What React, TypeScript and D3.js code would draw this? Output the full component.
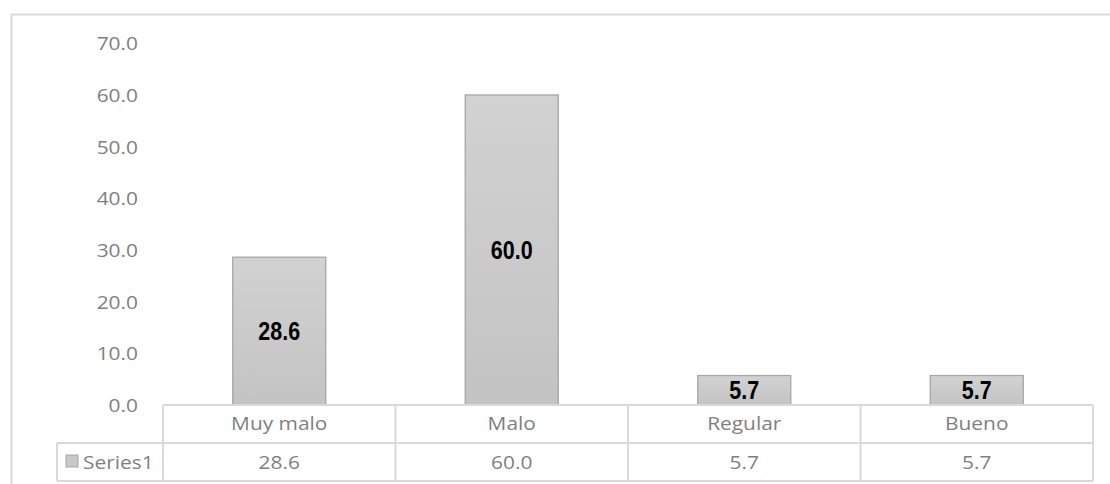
import React from "react";
import * as d3 from "d3";

const categories = ["Muy malo", "Malo", "Regular", "Bueno"];
const values = [28.6, 60.0, 5.7, 5.7];
const seriesName = "Series1";
const yTicks = [0, 10, 20, 30, 40, 50, 60, 70];

const W = 1110;
const H = 484;
const plotLeft = 163;
const plotRight = 1093;
const plotTop = 43.3;
const plotBottom = 405;
const row1Bottom = 443;
const row2Bottom = 481;
const legendLeft = 57;
const SX = 1.1;
const grayText = "#7f7f7f";
const lineColor = "#d9d9d9";
const baseFont = "'Open Sans', 'Noto Sans', sans-serif";

function STxt({ x, y, children, anchor = "middle", size = 19, fill = grayText }: any) {
  return (
    <text
      transform={`translate(${x},${y}) scale(${SX},1)`}
      textAnchor={anchor}
      fontFamily={baseFont}
      fontSize={size}
      fill={fill}
    >
      {children}
    </text>
  );
}

export default function App() {
  const y = d3.scaleLinear().domain([0, 70]).range([plotBottom, plotTop]);
  const x = d3.scaleBand<string>().domain(categories).range([plotLeft, plotRight]).padding(0);
  const bw = x.bandwidth();
  const barW = bw * 0.4;

  return (
    <svg width={W} height={H} style={{ position: "absolute", left: 0, top: 0, display: "block" }}>
      <defs>
        <linearGradient id="barGrad" x1="0" y1="0" x2="0" y2="1">
          <stop offset="0%" stopColor="#d2d2d2" />
          <stop offset="100%" stopColor="#c3c3c3" />
        </linearGradient>
      </defs>
      <rect x={0} y={0} width={W} height={H} fill="#fff" />
      <path d={`M11.5,${H} L11.5,14.5 L${W},14.5`} fill="none" stroke={lineColor} strokeWidth={2} />

      {yTicks.map((t) => (
        <STxt key={t} x={138} y={y(t) + 7} anchor="end">
          {t.toFixed(1)}
        </STxt>
      ))}

      {categories.map((c, i) => {
        const cx = (x(c) as number) + bw / 2;
        const top = y(values[i]);
        return (
          <g key={c}>
            <rect
              x={cx - barW / 2}
              y={top}
              width={barW}
              height={plotBottom - top}
              fill="url(#barGrad)"
              stroke="#a6a6a6"
              strokeWidth={1.3}
            />
            <text
              transform={`translate(${cx},${(top + plotBottom) / 2 + 9}) scale(0.86,1)`}
              textAnchor="middle"
              fontFamily="'Liberation Sans Narrow', 'Liberation Sans', Arial, sans-serif"
              fontWeight="bold"
              fontSize={25}
              fill="#000"
            >
              {values[i].toFixed(1)}
            </text>
          </g>
        );
      })}

      <g fill="none" stroke={lineColor} strokeWidth={2}>
        <line x1={plotLeft} x2={plotRight} y1={plotBottom} y2={plotBottom} />
        <line x1={legendLeft} x2={plotRight} y1={row1Bottom} y2={row1Bottom} />
        <line x1={legendLeft} x2={plotRight} y1={row2Bottom} y2={row2Bottom} />
        <line x1={legendLeft} x2={legendLeft} y1={row1Bottom} y2={row2Bottom} />
        {categories.map((c) => (
          <line key={c} x1={x(c) as number} x2={x(c) as number} y1={plotBottom} y2={row2Bottom} />
        ))}
        <line x1={plotRight} x2={plotRight} y1={plotBottom} y2={row2Bottom} />
      </g>
      {categories.map((c, i) => {
        const cx = (x(c) as number) + bw / 2;
        return (
          <g key={c}>
            <STxt x={cx} y={430}>{c}</STxt>
            <STxt x={cx} y={469}>{values[i].toFixed(1)}</STxt>
          </g>
        );
      })}
      <rect x={66} y={455} width={12} height={12} fill="#c8c8c8" stroke="#a6a6a6" strokeWidth={1} />
      <STxt x={83} y={469} anchor="start">{seriesName}</STxt>
    </svg>
  );
}
